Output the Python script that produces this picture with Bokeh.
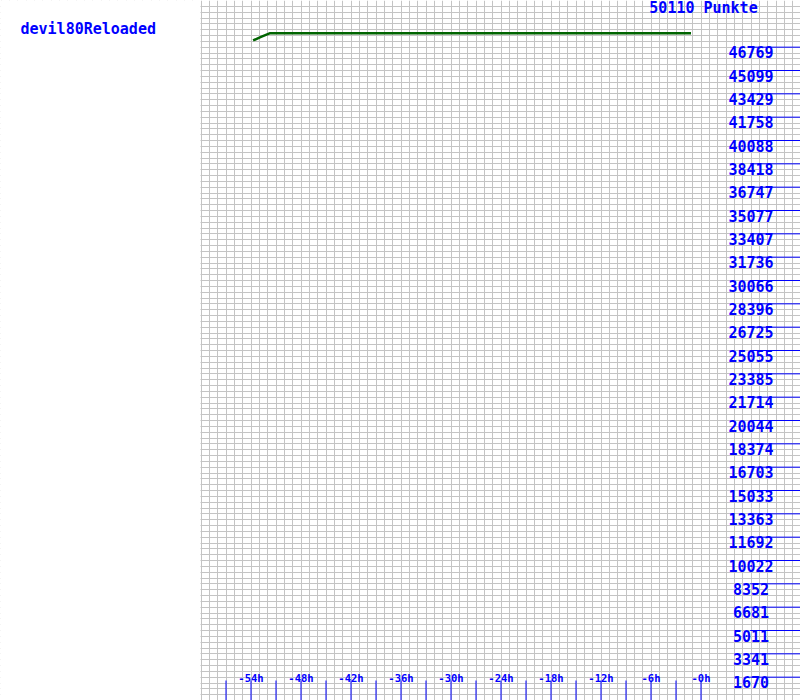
from bokeh.plotting import figure
from bokeh.models import Range1d, SingleIntervalTicker, Label
from bokeh.core.properties import value
from bokeh.embed import file_html
from bokeh.resources import INLINE

# ---- data ----
player = "devil80Reloaded"
total_label = "50110 Punkte"
y_max = 50110
y_tick_values = [round(k * y_max / 30, 2) for k in range(1, 29)]
y_tick_labels = ["1670", "3341", "5011", "6681", "8352", "10022", "11692", "13363",
                 "15033", "16703", "18374", "20044", "21714", "23385", "25055", "26725",
                 "28396", "30066", "31736", "33407", "35077", "36747", "38418", "40088",
                 "41758", "43429", "45099", "46769"]
x_tick_hours = [-57, -54, -51, -48, -45, -42, -39, -36, -33, -30, -27, -24, -21, -18,
                -15, -12, -9, -6, -3, 0]
x_label_hours = [-54, -48, -42, -36, -30, -24, -18, -12, -6, 0]
x_labels = ["-54h", "-48h", "-42h", "-36h", "-30h", "-24h", "-18h", "-12h", "-6h", "-0h"]
series_hours = [-53.75, -52.8, -51.7, -1.2]
series_points = [47250, 47500, 47770, 47770]

# ---- layout ----
W, H = 800, 700
shift = 0.06  # half a pixel, keeps 3h ticks crisp
x0, x1 = -84 - shift, 12 - shift
grid_start = -60
BLUE = "#0000ff"
FONT = value("DejaVu Sans Mono")

p = figure(width=W, height=H, x_range=Range1d(x0, x1), y_range=Range1d(0, y_max),
           output_backend="svg", toolbar_location=None,
           x_axis_location=None, y_axis_location=None, min_border=0)
p.outline_line_color = None
p.background_fill_color = "white"

p.xgrid.ticker = SingleIntervalTicker(interval=1)
p.ygrid.ticker = SingleIntervalTicker(interval=y_max / 120)
for g in (p.xgrid, p.ygrid):
    g.grid_line_color = "#c4c4c4"
    g.grid_line_width = 1

# white left area without grid
p.quad(left=[x0], right=[grid_start - 0.06], bottom=[0], top=[y_max],
       fill_color="white", line_color=None)

# right-side tick lines and labels
px_y = y_max / H
p.segment(x0=[5.9] * len(y_tick_values), x1=[x1] * len(y_tick_values),
          y0=y_tick_values, y1=y_tick_values, line_color=BLUE, line_width=1)
p.text(x=[6.0] * len(y_tick_values), y=y_tick_values, text=y_tick_labels,
       text_font=FONT, text_font_size="15px", text_font_style="bold", text_color=BLUE,
       text_align="center", text_baseline="middle", y_offset=5)

# bottom ticks and labels
tick_len = 20 * px_y
p.segment(x0=x_tick_hours, x1=x_tick_hours, y0=[0] * len(x_tick_hours),
          y1=[tick_len] * len(x_tick_hours), line_color=BLUE, line_width=1)
p.text(x=x_label_hours, y=[0] * len(x_label_hours), text=x_labels,
       text_font=FONT, text_font_size="10.5px", text_font_style="bold", text_color=BLUE,
       text_align="center", text_baseline="middle", y_offset=-22.5)

# data line
p.line(series_hours, series_points, line_color="#006400", line_width=2.5)

p.add_layout(Label(x=20, y=H - 28, x_units="screen", y_units="screen", text=player,
                   text_font="DejaVu Sans Mono", text_font_size="15px",
                   text_font_style="bold",
                   text_color=BLUE, text_baseline="middle"))
p.add_layout(Label(x=703, y=H - 7, x_units="screen", y_units="screen", text=total_label,
                   text_font="DejaVu Sans Mono", text_font_size="15px",
                   text_font_style="bold",
                   text_color=BLUE, text_baseline="middle", text_align="center"))

open("out.html", "w").write(file_html(p, INLINE))
